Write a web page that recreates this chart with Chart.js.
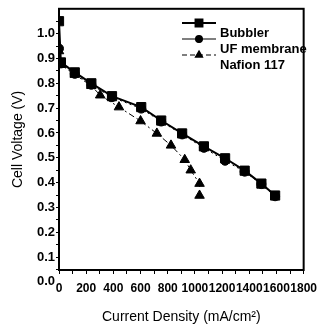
<!DOCTYPE html>
<html>
<head>
<meta charset="utf-8">
<script src="https://cdn.jsdelivr.net/npm/chart.js@4.4.1/dist/chart.umd.min.js"></script>
<style>
  html, body { margin: 0; padding: 0; background: #fff; }
</style>
</head>
<body>
<canvas id="fuelCell" width="324" height="332"></canvas>
<script>
const seriesNames = ["Bubbler", "UF membrane", "Nafion 117"];

const bubblerX = [0, 14, 116, 238, 390, 605, 752, 906, 1066, 1222, 1366, 1489, 1590];
const bubblerY = [1.05, 0.884, 0.844, 0.80, 0.748, 0.704, 0.650, 0.598, 0.546, 0.498, 0.448, 0.396, 0.348];

const ufX = [0, 14, 116, 238, 390, 605, 752, 906, 1066, 1222, 1366, 1489, 1590];
const ufY = [0.94, 0.88, 0.838, 0.794, 0.744, 0.698, 0.646, 0.594, 0.54, 0.488, 0.444, 0.394, 0.345];

const nafionX = [0, 14, 116, 238, 303, 441, 600, 720, 824, 925, 969, 1034, 1034];
const nafionY = [0.93, 0.875, 0.835, 0.79, 0.752, 0.704, 0.648, 0.598, 0.55, 0.492, 0.45, 0.396, 0.348];

const xTickValues = [0, 100, 200, 300, 400, 500, 600, 700, 800, 900, 1000, 1100, 1200, 1300, 1400, 1500, 1600, 1700, 1800];
const yTickValues = [0, 0.05, 0.1, 0.15, 0.2, 0.25, 0.3, 0.35, 0.4, 0.45, 0.5, 0.55, 0.6, 0.65, 0.7, 0.75, 0.8, 0.85, 0.9, 0.95, 1.0, 1.05];

function toPoints(xs, ys) {
  return xs.map(function (x, i) { return { x: x, y: ys[i] }; });
}

const frame = {
  id: "frame",
  afterDraw(chart) {
    const a = chart.chartArea;
    const ctx = chart.ctx;
    ctx.save();
    ctx.strokeStyle = "#000";
    ctx.lineWidth = 2;
    ctx.strokeRect(a.left, a.top, a.right - a.left, a.bottom - a.top);
    ctx.restore();
  }
};

// legend box drawn in the top right of the plot, text sits a bit below its line like the scan
const boxLegend = {
  id: "boxLegend",
  afterDraw(chart) {
    const ctx = chart.ctx;
    const dashes = [[], [], [5, 3]];
    ctx.save();
    chart.data.datasets.forEach(function (ds, i) {
      const ly = 23 + i * 16;
      ctx.strokeStyle = "#000";
      ctx.lineWidth = i === 0 ? 2 : 1.2;
      ctx.setLineDash(dashes[i]);
      ctx.beginPath();
      ctx.moveTo(182, ly);
      ctx.lineTo(216, ly);
      ctx.stroke();
      ctx.setLineDash([]);
      Chart.helpers.drawPoint(ctx, {
        pointStyle: ds.pointStyle,
        radius: ds.pointRadius * 0.75,
        rotation: 0,
        borderWidth: 1
      }, 199, ly);
      ctx.fillStyle = "#000";
      ctx.fill();
      ctx.font = "bold 13px 'Liberation Sans', Arial, sans-serif";
      ctx.textBaseline = "middle";
      ctx.textAlign = "left";
      ctx.fillText(seriesNames[i], 220, ly + 10);
    });
    ctx.restore();
  }
};

document.addEventListener("DOMContentLoaded", function () {
  const ctx = document.getElementById("fuelCell").getContext("2d");

  new Chart(ctx, {
    type: "line",
    data: {
      datasets: [
        {
          label: seriesNames[0],
          data: toPoints(bubblerX, bubblerY),
          borderColor: "#000",
          backgroundColor: "#000",
          borderWidth: 2,
          pointStyle: "rect",
          pointRadius: 6.5,
          pointBorderWidth: 1
        },
        {
          label: seriesNames[1],
          data: toPoints(ufX, ufY),
          borderColor: "#000",
          backgroundColor: "#000",
          borderWidth: 1,
          borderDash: [2, 3],
          pointStyle: "circle",
          pointRadius: 4.5,
          pointBorderWidth: 1
        },
        {
          label: seriesNames[2],
          data: toPoints(nafionX, nafionY),
          borderColor: "#000",
          backgroundColor: "#000",
          borderWidth: 1,
          borderDash: [6, 3, 2, 3],
          pointStyle: "triangle",
          pointRadius: 5.5,
          pointBorderWidth: 1
        }
      ]
    },
    options: {
      responsive: false,
      animation: false,
      layout: { padding: { top: 7, right: 16, left: 0, bottom: 0 } },
      plugins: {
        legend: { display: false },
        tooltip: { enabled: false }
      },
      scales: {
        x: {
          type: "linear",
          min: 0,
          max: 1800,
          afterBuildTicks: function (scale) {
            scale.ticks = xTickValues.map(function (v) { return { value: v }; });
          },
          afterFit: function (scale) { scale.height = 62; },
          ticks: {
            autoSkip: false,
            maxRotation: 0,
            padding: 7,
            color: "#000",
            font: { family: "'Liberation Sans', Arial, sans-serif", size: 12, weight: "bold" },
            callback: function (v) { return v % 200 === 0 ? String(v) : ""; }
          },
          grid: { drawOnChartArea: false, tickLength: 4, color: "#000", lineWidth: 1 },
          border: { display: true, color: "#000", width: 2 },
          title: {
            display: true,
            text: "Current Density (mA/cm²)",
            color: "#000",
            font: { family: "'Liberation Sans', Arial, sans-serif", size: 14 },
            padding: { top: 0, bottom: 6 }
          }
        },
        y: {
          type: "linear",
          min: 0.048,
          max: 1.1,
          afterBuildTicks: function (scale) {
            scale.ticks = yTickValues.map(function (v) { return { value: v }; });
          },
          afterFit: function (scale) { scale.width = 59; },
          ticks: {
            autoSkip: false,
            padding: 1,
            color: "#000",
            font: { family: "'Liberation Sans', Arial, sans-serif", size: 13, weight: "bold" },
            callback: function (v, i) { return i % 2 === 0 ? Number(v).toFixed(1) : ""; }
          },
          grid: {
            drawOnChartArea: false,
            tickLength: 3,
            lineWidth: 1,
            tickColor: function (c) { return c.tick && c.tick.value < 0.04 ? "rgba(0,0,0,0)" : "#000"; }
          },
          border: { display: true, color: "#000", width: 2 },
          title: {
            display: true,
            text: "Cell Voltage (V)",
            color: "#000",
            font: { family: "'Liberation Sans', Arial, sans-serif", size: 14 },
            padding: { top: 10, bottom: 0 }
          }
        }
      }
    },
    plugins: [frame, boxLegend]
  });
});
</script>
</body>
</html>
